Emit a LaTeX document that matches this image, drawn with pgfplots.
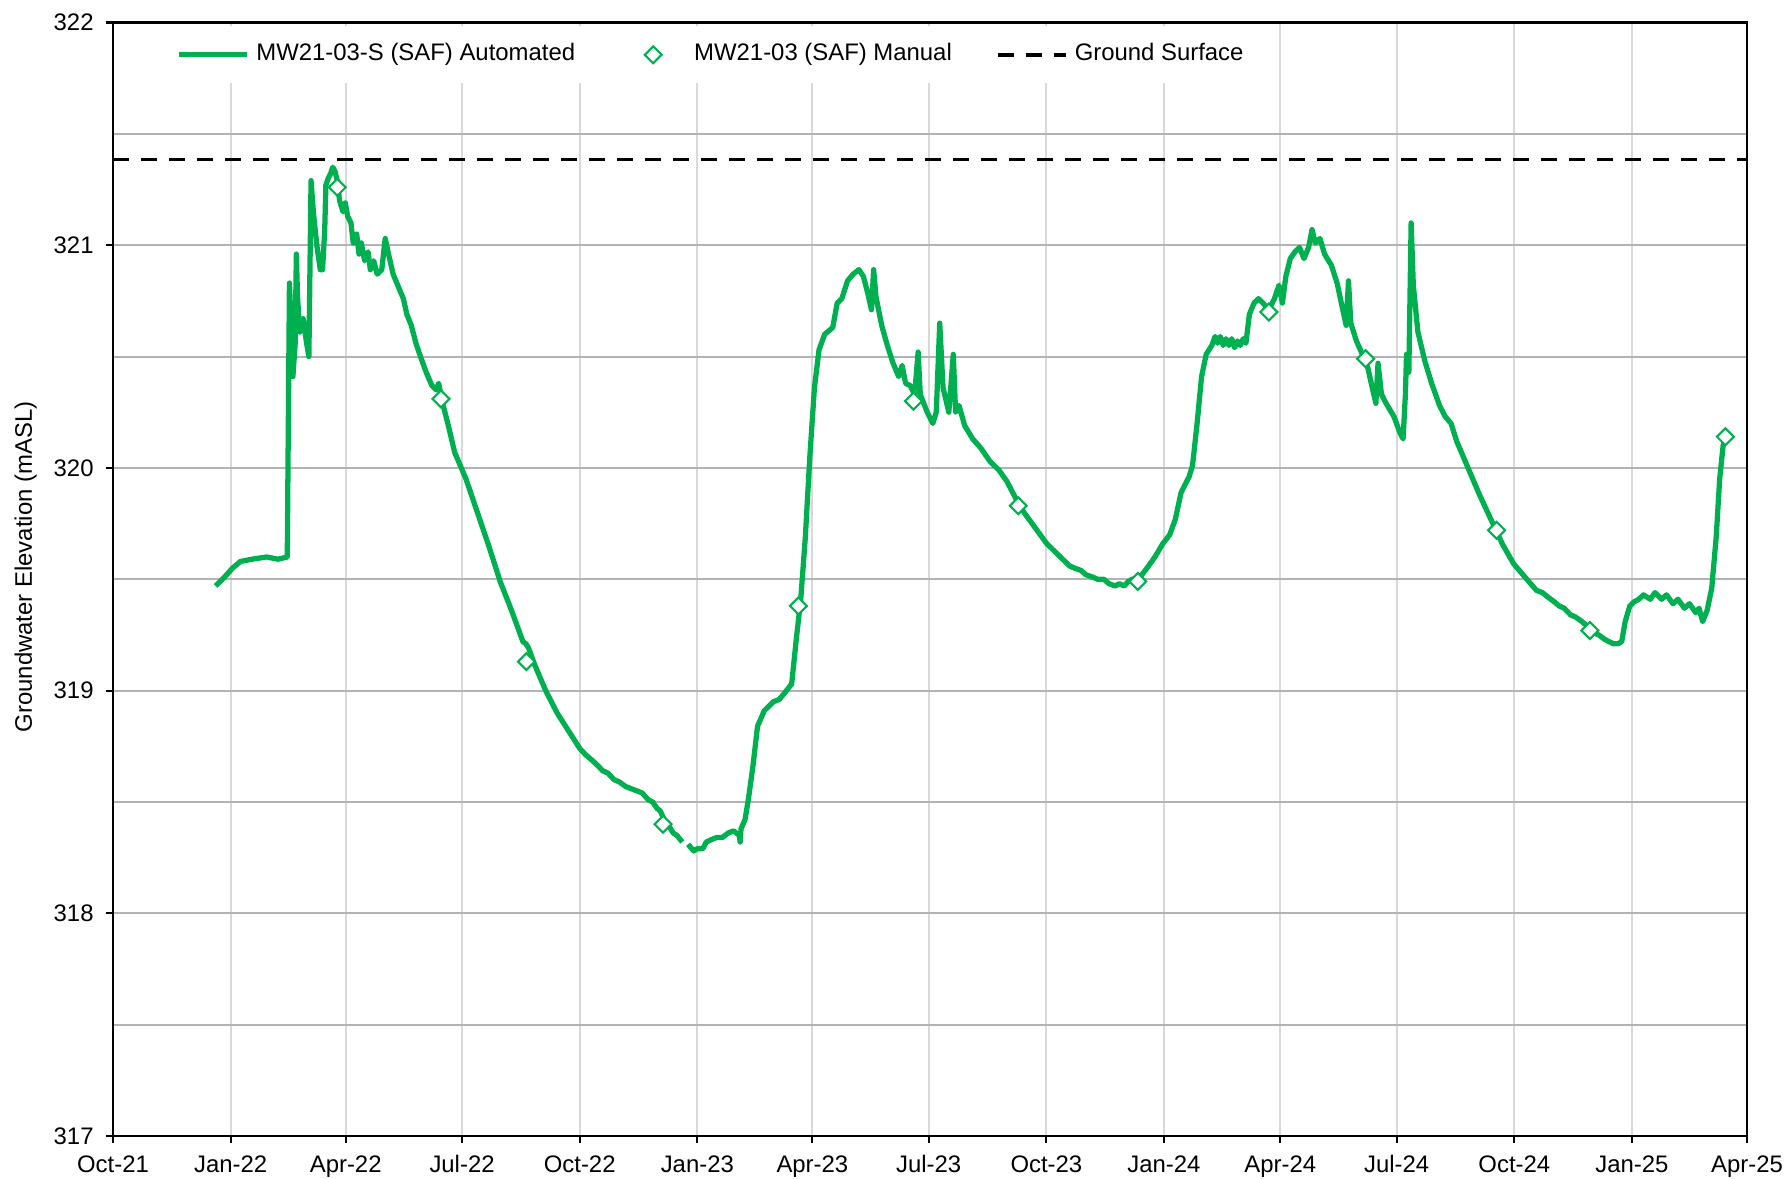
\documentclass[border=0pt]{standalone}
\usepackage{fontspec}
\setmainfont{Liberation Sans}
\usepackage{pgfplots}
\usepackage{pgfplotstable}
\pgfplotsset{compat=1.18}
\definecolor{xlgreen}{HTML}{00B050}
\definecolor{vgrid}{HTML}{D9D9D9}
\definecolor{hgrid}{HTML}{B3B3B3}
\pgfplotsset{
  wideline legend/.style={legend image code/.code={\path[draw=none,fill=none] (0cm,0cm) -- (0.68cm,0cm);\draw[mark repeat=2,mark phase=2,##1] plot coordinates {(0cm,0cm) (0.34cm,0cm) (0.68cm,0cm)};}},
  markonly legend/.style={legend image code/.code={\path[draw=none,fill=none] (0cm,0cm) -- (0.68cm,0cm);\path[##1] plot[only marks] coordinates {(0.34cm,0cm)};}},
}

\pgfplotstableread{
d v
80.2 319.47
87.3 319.51
93.5 319.55
99.7 319.58
108.7 319.59
120.2 319.60
129.1 319.59
136.3 319.60
138.0 320.83
139.8 320.56
140.7 320.41
142.5 320.56
143.4 320.96
144.3 320.77
146.1 320.61
148.7 320.67
151.4 320.56
153.2 320.50
154.9 321.29
156.7 321.15
159.4 321.00
162.1 320.89
163.9 320.89
165.6 321.07
166.5 321.27
168.3 321.30
170.1 321.32
171.9 321.35
173.7 321.33
175.4 321.29
177.2 321.20
179.9 321.15
181.7 321.19
183.5 321.13
186.1 321.10
187.9 321.01
190.6 321.05
192.4 320.96
194.2 321.01
196.8 320.93
199.5 320.97
201.3 320.89
203.9 320.93
206.6 320.87
210.2 320.89
212.9 321.03
215.5 320.96
219.1 320.87
222.7 320.82
227.1 320.76
229.8 320.69
233.3 320.64
236.9 320.56
240.5 320.50
244.9 320.43
249.4 320.37
252.9 320.35
254.7 320.38
258.3 320.28
262.7 320.18
267.2 320.07
276.1 319.95
285.0 319.80
293.9 319.65
302.8 319.49
311.7 319.36
320.6 319.22
323.0 319.21
325.1 319.19
329.5 319.12
338.4 319.00
347.3 318.90
356.2 318.82
365.1 318.74
370.0 318.71
374.1 318.69
378.0 318.67
383.0 318.64
387.0 318.63
391.9 318.60
396.0 318.59
400.8 318.57
405.0 318.56
409.7 318.55
414.0 318.54
418.6 318.51
422.0 318.50
425.7 318.47
428.0 318.46
431.9 318.41
435.0 318.39
438.2 318.36
441.0 318.35
445.3 318.32
447.5 nan
449.8 318.31
454.2 318.28
457.0 318.29
461.3 318.29
464.0 318.32
467.6 318.33
472.0 318.34
476.5 318.34
481.0 318.36
485.4 318.37
489.8 318.35
490.5 318.32
491.2 318.38
494.3 318.42
496.9 318.51
500.5 318.66
504.1 318.84
509.4 318.91
513.0 318.93
516.5 318.95
521.0 318.96
525.4 318.99
530.8 319.03
534.4 319.23
537.9 319.41
541.5 319.69
545.0 320.05
548.6 320.36
552.2 320.53
556.6 320.60
562.9 320.63
566.4 320.74
570.0 320.76
574.5 320.84
578.9 320.87
583.4 320.89
586.9 320.86
590.5 320.78
593.2 320.71
594.9 320.89
596.7 320.77
601.2 320.64
605.6 320.55
610.1 320.47
614.5 320.41
617.2 320.46
619.9 320.38
623.4 320.37
627.0 320.33
629.7 320.52
631.4 320.33
636.8 320.25
641.2 320.20
643.9 320.25
646.6 320.65
649.2 320.36
653.7 320.25
657.2 320.51
659.0 320.25
661.7 320.28
666.1 320.19
672.4 320.13
678.6 320.09
685.8 320.03
692.9 319.99
699.1 319.94
706.3 319.86
712.5 319.80
721.4 319.73
730.3 319.66
739.2 319.61
748.1 319.56
752.0 319.55
757.0 319.54
761.0 319.52
766.0 319.51
770.0 319.50
774.9 319.50
779.0 319.48
783.8 319.47
787.0 319.48
790.9 319.47
794.0 319.49
797.1 319.50
803.3 319.51
808.7 319.55
814.9 319.60
821.1 319.66
826.5 319.70
830.9 319.77
835.4 319.89
841.6 319.96
844.3 320.01
847.9 320.20
851.4 320.41
855.0 320.51
859.4 320.55
862.0 320.59
863.9 320.56
866.0 320.59
868.3 320.55
870.5 320.58
872.8 320.55
875.0 320.58
877.2 320.54
879.5 320.57
881.7 320.55
884.0 320.58
886.1 320.56
888.8 320.69
892.4 320.74
895.9 320.76
899.5 320.74
903.9 320.71
908.4 320.76
911.9 320.82
914.6 320.74
917.3 320.86
920.8 320.94
924.4 320.97
928.0 320.99
931.5 320.94
935.1 320.99
937.8 321.07
940.4 321.01
944.0 321.03
947.6 320.96
952.9 320.91
957.4 320.83
961.8 320.71
964.5 320.64
966.3 320.84
968.1 320.65
972.5 320.57
977.9 320.50
981.4 320.45
984.1 320.38
987.7 320.29
989.4 320.47
992.1 320.33
995.7 320.29
1001.9 320.23
1006.4 320.16
1009.0 320.13
1010.8 320.33
1011.7 320.51
1013.5 320.43
1015.3 321.10
1017.0 320.82
1020.6 320.61
1026.0 320.48
1031.3 320.38
1037.5 320.28
1042.0 320.23
1046.5 320.20
1050.9 320.12
1059.8 320.00
1068.7 319.88
1077.6 319.77
1086.5 319.66
1095.4 319.57
1104.3 319.51
1113.3 319.45
1118.0 319.44
1122.2 319.42
1127.0 319.40
1131.1 319.38
1135.0 319.37
1140.0 319.34
1144.0 319.33
1148.9 319.31
1153.0 319.29
1157.8 319.26
1162.0 319.25
1166.7 319.23
1170.0 319.22
1173.8 319.21
1177.0 319.21
1180.0 319.22
1182.7 319.31
1186.3 319.38
1190.0 319.40
1193.4 319.41
1197.0 319.43
1202.3 319.41
1206.0 319.44
1211.2 319.41
1215.0 319.43
1220.1 319.39
1224.0 319.41
1229.0 319.37
1233.0 319.39
1237.9 319.35
1240.5 319.37
1243.3 319.31
1246.8 319.36
1250.4 319.46
1253.9 319.69
1256.6 319.95
1259.3 320.10
1261.1 320.15
}\auto

\pgfplotstableread{
d v
175.4 321.26
256.5 320.31
323.3 319.13
430.2 318.40
536.1 319.38
626.1 320.30
708.0 319.83
801.5 319.49
904.0 320.70
979.7 320.49
1082.1 319.72
1155.1 319.27
1261.1 320.14
}\manual

\pgfplotstableread{
d v
0 321.385
1278 321.385
}\ground

\begin{document}
\begin{tikzpicture}
\begin{axis}[
  scale only axis,
  width=16.34cm, height=11.135cm,
  xmin=0, xmax=1278, ymin=317, ymax=322,
  font=\fontsize{6.8}{8.1}\selectfont,
  /pgf/number format/assume math mode=true,
  xtick={0,92,182,273,365,457,547,638,730,822,913,1004,1096,1188,1278},
  xticklabels={Oct-21,Jan-22,Apr-22,Jul-22,Oct-22,Jan-23,Apr-23,Jul-23,Oct-23,Jan-24,Apr-24,Jul-24,Oct-24,Jan-25,Apr-25},
  ytick={317,318,319,320,321,322},
  minor ytick={317.5,318.5,319.5,320.5,321.5},
  yticklabels={317,318,319,320,321,322},
  xmajorgrids=true, ymajorgrids=true, yminorgrids=true,
  major x grid style={vgrid, line width=0.55pt},
  major y grid style={hgrid, line width=0.55pt},
  minor y grid style={hgrid, line width=0.55pt},
  tick align=outside, tick pos=left,
  major tick length=0.07cm, minor tick length=0pt,
  tick style={black, line width=0.6pt},
  axis line style={black, line width=0.8pt},
  ylabel={Groundwater Elevation (mASL)},
  ylabel style={at={(axis description cs:-0.0535,0.511)}, anchor=center},
  unbounded coords=jump,
  legend columns=3,
  wideline legend,
  legend style={at={(axis description cs:0.029,0.971)}, anchor=west, draw=none, fill=white,
    inner xsep=0.15cm, inner ysep=0.1cm,
    font=\fontsize{6.8}{8.1}\selectfont,
    /tikz/every even column/.append style={column sep=0.37cm}},
]
\addplot[xlgreen, line width=1.5pt, line join=round] table[x=d, y=v] {\auto};
\addlegendentry{MW21-03-S (SAF) Automated}
\addplot[only marks, mark=square*, mark size=1.7pt, mark options={rotate=45, fill=white, draw=xlgreen, line width=0.6pt}, markonly legend] table[x=d, y=v] {\manual};
\addlegendentry{MW21-03 (SAF) Manual}
\addplot[black, line width=1.1pt, dash pattern=on 0.16cm off 0.12cm] table[x=d, y=v] {\ground};
\addlegendentry{Ground Surface}
\end{axis}
\pgfresetboundingbox
\path (-1.13cm,-0.42cm) rectangle (16.75cm,11.36cm);
\end{tikzpicture}
\end{document}
